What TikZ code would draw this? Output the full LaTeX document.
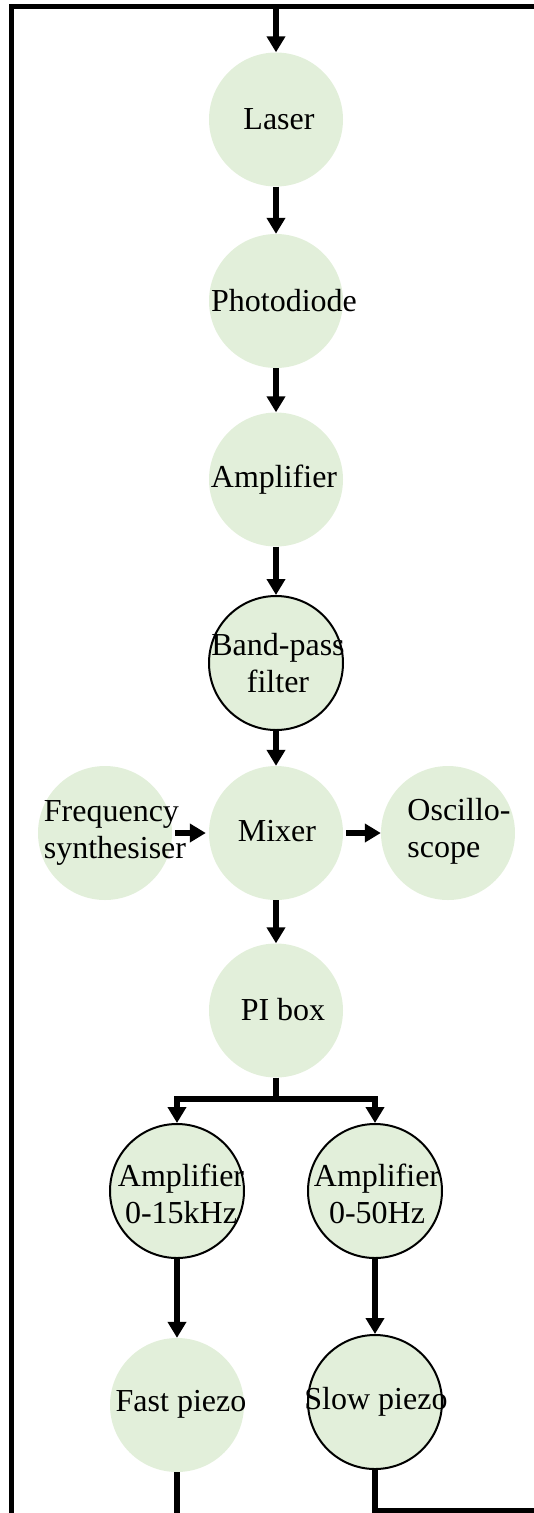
\documentclass[tikz,border=0pt]{standalone}
\usepackage{fontspec}
\setmainfont{Liberation Serif}
\usetikzlibrary{arrows.meta}
\definecolor{blockfill}{RGB}{226,239,218}
\tikzset{
  unit/.style={circle, fill=blockfill, minimum size=134pt, inner sep=0pt},
  ringed/.style={unit, draw=black, line width=2pt},
  caption/.style={font=\fontsize{32}{37}\selectfont, align=center, inner sep=0pt},
  leftcaption/.style={caption, align=left},
  flow/.style={line width=5.2pt, -{Triangle[length=16pt,width=18pt]}},
  wire/.style={line width=5.2pt},
  feedback/.style={line width=5.5pt}
}
\begin{document}
\begin{tikzpicture}[x=1pt,y=-1pt]
\useasboundingbox (0,0) rectangle (534,1513);
\begin{scope}
\clip (0,0) rectangle (534,1513);

% blocks
\node[unit]   (laser) at (276,119.5) {};
\node[unit]   (photo) at (276,301) {};
\node[unit]   (amp)   at (276,479.5) {};
\node[ringed] (band)  at (276,663) {};
\node[unit]   (mixer) at (276,833) {};
\node[unit]   (freq)  at (105,833) {};
\node[unit]   (osc)   at (448,833) {};
\node[unit]   (pi)    at (276,1010.5) {};
\node[ringed] (ampF)  at (177,1191) {};
\node[ringed] (ampS)  at (375,1191) {};
\node[unit]   (fast)  at (177,1405) {};
\node[ringed] (slow)  at (375,1402) {};

% labels
\node[caption] (laserT) at (279,119) {Laser};
\node[caption] (photoT) at (284,301) {Photodiode};
\node[caption] (ampT)   at (274,480) {Amplifier};
\node[caption] (bandT)  at (278,663) {Band-pass\\filter};
\node[caption] (mixerT) at (277,831) {Mixer};
\node[leftcaption] (freqT) at (115,833) {Frequency\\synthesiser};
\node[leftcaption] (oscT)  at (459,831) {Oscillo-\\scope};
\node[caption] (piT)    at (283,1010) {PI box};
\node[caption] (ampFT)  at (181,1194) {Amplifier\\0-15kHz};
\node[caption] (ampST)  at (377,1194) {Amplifier\\0-50Hz};
\node[caption] (fastT)  at (181,1404) {Fast piezo};
\node[caption] (slowT)  at (376,1402) {Slow piezo};

% feedback loop round the chain
\coordinate (top)   at (276,6.5);
\coordinate (split) at (276,1099);
\draw[feedback] (fast.south) -- (177,1560) -| (11.5,6.5) -- (top);
\draw[feedback] (slow.south) |- (580,1511) |- (top);
\draw[flow] (top) -- (laser.north);

% signal chain
\draw[flow] (laser) -- (photo);
\draw[flow] (photo) -- (amp);
\draw[flow] (amp) -- (band);
\draw[flow] (band) -- (mixer);
\draw[flow, shorten <=3pt, shorten >=3pt] (freq) -- (mixer);
\draw[flow, shorten <=3pt] (mixer) -- (osc);
\draw[flow] (mixer) -- (pi);
\draw[wire] (pi) -- (split);
\draw[flow] (split) -| (ampF.north);
\draw[flow] (split) -| (ampS.north);
\draw[flow] (ampF) -- (fast);
\draw[flow] (ampS) -- (slow);
\end{scope}
\end{tikzpicture}
\end{document}
